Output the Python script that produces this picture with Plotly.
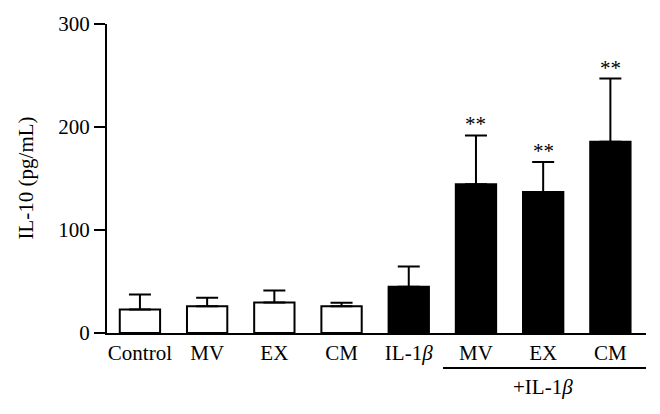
import plotly.graph_objects as go

categories = ["Control", "MV", "EX", "CM", "IL-1β", "MV+", "EX+", "CM+"]
tick_labels = ["Control", "MV", "EX", "CM", "IL-1<i>β</i>", "MV", "EX", "CM"]
means = [22.7, 25.9, 29.7, 25.9, 44.8, 144.5, 136.8, 185.7]
sd_upper = [14.7, 8.3, 11.5, 3.5, 19.7, 47.3, 29.1, 61.3]
significance = ["", "", "", "", "", "**", "**", "**"]
fill_colors = ["white", "white", "white", "white", "black", "black", "black", "black"]

FONT = "Liberation Serif"

fig = go.Figure()
fig.add_trace(go.Bar(
    x=categories,
    y=means,
    width=0.6,
    marker=dict(color=fill_colors, line=dict(color="black", width=2)),
    error_y=dict(type="data", array=sd_upper, arrayminus=[0] * len(means),
                 symmetric=False, color="black", thickness=2, width=11),
    showlegend=False,
))

annotations = []
for cat, m, e, s in zip(categories, means, sd_upper, significance):
    if s:
        annotations.append(dict(x=cat, y=m + e, text=s, showarrow=False,
                                yanchor="bottom", yshift=-3,
                                font=dict(family=FONT, size=21, color="black")))

annotations.append(dict(text="IL-10 (pg/mL)", xref="paper", yref="paper",
                        x=0, y=0.5, xshift=-82, textangle=-90, showarrow=False,
                        xanchor="center", yanchor="middle",
                        font=dict(family=FONT, size=21, color="black")))
annotations.append(dict(text="+IL-1<i>β</i>", xref="x", yref="paper",
                        x=6, y=-0.176, showarrow=False,
                        xanchor="center", yanchor="middle",
                        font=dict(family=FONT, size=21, color="black")))

fig.update_layout(
    width=660, height=414,
    margin=dict(l=107, r=14, t=20, b=81),
    plot_bgcolor="white", paper_bgcolor="white",
    font=dict(family=FONT, size=21, color="black"),
    annotations=annotations,
    shapes=[dict(type="line", xref="x", yref="paper", x0=4.51, x1=7.53,
                 y0=-0.113, y1=-0.113, line=dict(color="black", width=2))],
    xaxis=dict(
        range=[-0.49, 7.53],
        tickmode="array", tickvals=categories, ticktext=tick_labels,
        showline=True, linecolor="black", linewidth=2,
        ticks="", showgrid=False, zeroline=False,
        tickfont=dict(family=FONT, size=21),
    ),
    yaxis=dict(
        range=[0, 300], tickvals=[0, 100, 200, 300],
        showline=True, linecolor="black", linewidth=2,
        ticks="outside", ticklen=11, tickwidth=2, tickcolor="black",
        showgrid=False, zeroline=False,
        tickfont=dict(family=FONT, size=21),
    ),
)

fig.write_html("out.html", config={"displayModeBar": False},
               post_script="document.body.style.margin='0';")
